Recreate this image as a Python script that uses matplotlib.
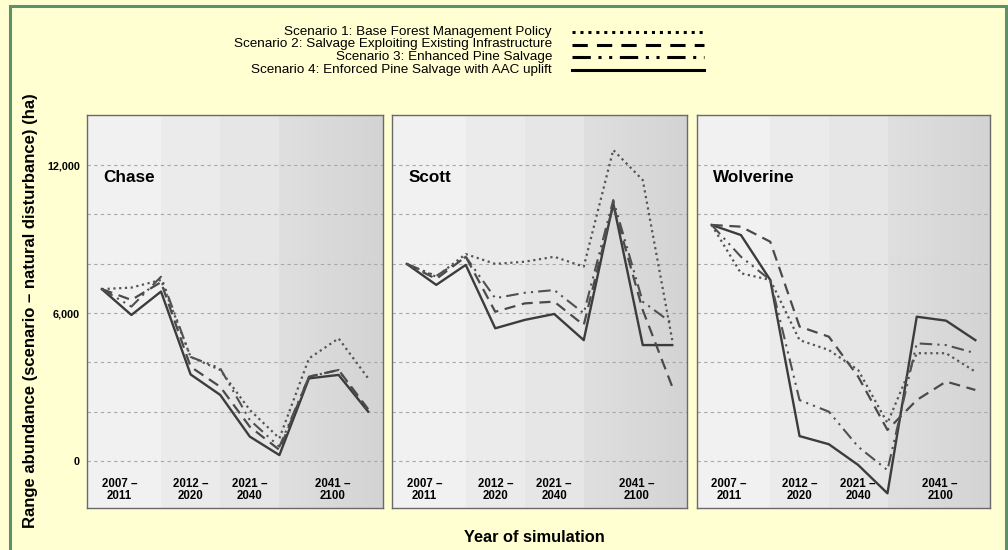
import matplotlib
matplotlib.use('Agg')
import matplotlib.pyplot as plt
import numpy as np
from matplotlib.lines import Line2D
from matplotlib.patches import Rectangle

plt.rcParams['font.family'] = ['Liberation Sans', 'DejaVu Sans']

# ---------------- data ----------------
time_index = [0, 1, 2, 3, 4, 5, 6, 7, 8, 9]
period_labels = ['2007 –\n2011', '2012 –\n2020', '2021 –\n2040', '2041 –\n2100']
period_pos = [0.6, 3.0, 5.0, 7.8]
regions = ['Chase', 'Scott', 'Wolverine']
scenario_names = [
    'Scenario 1: Base Forest Management Policy',
    'Scenario 2: Salvage Exploiting Existing Infrastructure',
    'Scenario 3: Enhanced Pine Salvage',
    'Scenario 4: Enforced Pine Salvage with AAC uplift',
]
y_ticks = [0, 6000, 12000]
y_tick_labels = ['0', '6,000', '12,000']
grid_levels = [0, 2000, 4000, 6000, 8000, 10000, 12000]

chase_s1 = [6970, 7030, 7340, 4220, 3690, 2070, 920, 4160, 4970, 3350]
chase_s2 = [6970, 6530, 7250, 3820, 3010, 1390, 450, 3420, 3690, 2100]
chase_s3 = [6970, 6260, 7470, 4220, 3760, 1660, 580, 3420, 3690, 2000]
chase_s4 = [6970, 5920, 6870, 3510, 2680, 990, 240, 3350, 3490, 2000]

scott_s1 = [7990, 7470, 8390, 7990, 8080, 8280, 7880, 12610, 11390, 4900]
scott_s2 = [7990, 7380, 8280, 6050, 6390, 6460, 5510, 10380, 6120, 3010]
scott_s3 = [7990, 7500, 8280, 6600, 6820, 6930, 5990, 10580, 6460, 5580]
scott_s4 = [7990, 7140, 7950, 5380, 5720, 5960, 4900, 10450, 4700, 4700]

wolv_s1 = [9570, 7610, 7340, 4900, 4500, 3690, 1540, 4370, 4370, 3620]
wolv_s2 = [9570, 9500, 8890, 5450, 5040, 3420, 1260, 2470, 3220, 2880]
wolv_s3 = [9570, 8280, 7340, 2470, 2000, 580, -370, 4770, 4700, 4370]
wolv_s4 = [9570, 9160, 7340, 1010, 680, -160, -1310, 5850, 5690, 4900]

region_data = [
    [chase_s1, chase_s2, chase_s3, chase_s4],
    [scott_s1, scott_s2, scott_s3, scott_s4],
    [wolv_s1, wolv_s2, wolv_s3, wolv_s4],
]

# ---------------- styles ----------------
styles = [
    dict(ls=(0, (1.0, 1.6)), lw=1.6, color='#555555'),
    dict(ls=(0, (5, 3)), lw=1.6, color='#4a4a4a'),
    dict(ls=(0, (6, 2.5, 1, 2.5, 1, 2.5)), lw=1.5, color='#505050'),
    dict(ls='-', lw=1.7, color='#3c3c3c'),
]

W, H = 1008, 550
fig = plt.figure(figsize=(W / 100, H / 100), dpi=100)
fig.patch.set_facecolor('#FFFFD2')

def fx(px):
    return px / W

def fy(py):
    return 1 - py / H

# green frame
fig.patches.append(Rectangle((fx(10), fy(570)), fx(1006) - fx(10), fy(6) - fy(570),
                             transform=fig.transFigure, fill=False,
                             edgecolor='#5E9169', lw=2.2, clip_on=False))

YLO, YHI = -1905, 14027
XLO, XHI = -0.5, 9.5
top_px, bot_px = 115, 508
panels_px = [(87, 383), (392, 687), (697, 990)]

# background image (vertical bands)
ncol = 400
xs = np.linspace(XLO, XHI, ncol)
vals = np.where(xs < 2, 0.948, np.where(xs < 4, 0.925, np.where(xs < 6, 0.905,
                0.875 - 0.045 * (xs - 6) / 3.5)))
bg = np.repeat(vals[None, :, None], 3, axis=2)

axes = []
for i, (l, r) in enumerate(panels_px):
    ax = fig.add_axes([fx(l), fy(bot_px), (r - l) / W, (bot_px - top_px) / H])
    axes.append(ax)
    ax.imshow(bg, extent=(XLO, XHI, YLO, YHI), aspect='auto', zorder=0,
              interpolation='nearest')
    for lv in grid_levels:
        ax.axhline(lv, color='#a8a8a8', lw=0.8, ls=(0, (3, 3)), zorder=1)
    for s, (vals_s, st) in enumerate(zip(region_data[i], styles)):
        ax.plot(time_index, vals_s, zorder=3 + (3 - s), **st)
    ax.set_xlim(XLO, XHI)
    ax.set_ylim(YLO, YHI)
    ax.set_xticks([])
    ax.set_yticks(y_ticks)
    if i == 0:
        ax.set_yticklabels(y_tick_labels, fontsize=7.8, fontweight='bold')
    else:
        ax.set_yticklabels([])
    ax.tick_params(axis='y', length=0, pad=5)
    for sp in ax.spines.values():
        sp.set_color('#6a6a6a')
        sp.set_linewidth(1.0)
    ax.text(0.055, 0.84, regions[i], transform=ax.transAxes, fontsize=12.3,
            fontweight='bold', ha='left', va='center')
    for lab, p in zip(period_labels, period_pos):
        ax.text(p, 0.045, lab, transform=ax.get_xaxis_transform(), fontsize=8.3,
                fontweight='bold', ha='center', va='center', linespacing=1.0)

# axis labels
fig.text(fx(31), fy(311), 'Range abundance (scenario – natural disturbance) (ha)',
         rotation=90, ha='center', va='center', fontsize=12, fontweight='bold')
fig.text(fx(534), fy(537), 'Year of simulation', ha='center', va='center',
         fontsize=11.8, fontweight='bold')

# legend
leg_y = [32, 44.5, 57, 69.5]
for name, st, yy in zip(scenario_names, styles, leg_y):
    fig.text(fx(552), fy(yy), name, ha='right', va='center', fontsize=9.7)
    st2 = dict(st)
    st2['color'] = '#000000'
    st2['lw'] = 2.2
    fig.add_artist(Line2D([fx(572), fx(704)], [fy(yy), fy(yy)],
                          transform=fig.transFigure, **st2))

fig.savefig('out.png', dpi=100, facecolor=fig.get_facecolor())
